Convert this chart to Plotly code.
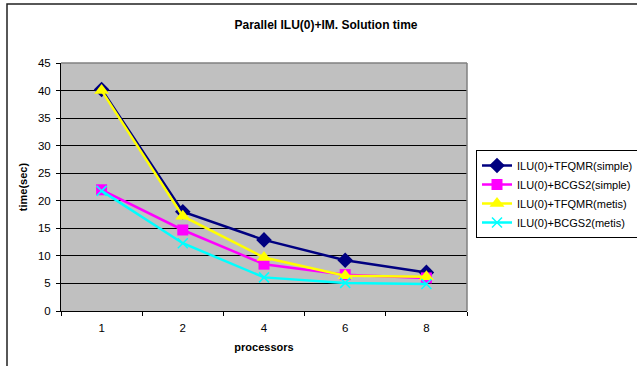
import plotly.graph_objects as go

# Number of processors (category axis)
processors = ["1", "2", "4", "6", "8"]

# Solution time in seconds for each solver / partitioning combination
tfqmr_simple = [40.2, 18.0, 12.9, 9.2, 7.0]
bcgs2_simple = [22.0, 14.7, 8.5, 6.6, 6.0]
tfqmr_metis = [40.0, 17.2, 9.7, 6.4, 6.2]
bcgs2_metis = [21.8, 12.3, 6.1, 5.1, 4.9]

series_names = [
    "ILU(0)+TFQMR(simple)",
    "ILU(0)+BCGS2(simple)",
    "ILU(0)+TFQMR(metis)",
    "ILU(0)+BCGS2(metis)",
]

FONT = "Liberation Sans, Arial, sans-serif"

styles = [
    dict(color="#000080", symbol="diamond", size=12, line=dict(width=0)),
    dict(color="#FF00FF", symbol="square", size=11, line=dict(width=0)),
    dict(color="#FFFF00", symbol="triangle-up", size=13, line=dict(width=0)),
    dict(color="#00FFFF", symbol="x-thin", size=10, line=dict(width=1.5, color="#00FFFF")),
]

fig = go.Figure()
for name, ys, st in zip(series_names, [tfqmr_simple, bcgs2_simple, tfqmr_metis, bcgs2_metis], styles):
    fig.add_trace(go.Scatter(
        x=processors, y=ys, name=name, mode="lines+markers",
        line=dict(color=st["color"], width=2.5),
        marker=st,
    ))

L, R, T, B = 61, 170, 63, 55
W, H = 637, 366
pw, ph = W - L - R, H - T - B

def px_x(p):
    return (p - L) / pw

def px_y(p):
    return (H - B - p) / ph

fig.update_layout(
    width=W, height=H,
    margin=dict(l=L, r=R, t=T, b=B, autoexpand=False),
    paper_bgcolor="white",
    plot_bgcolor="#C0C0C0",
    font=dict(family=FONT, size=11, color="black"),
    title=dict(text="<b>Parallel ILU(0)+IM. Solution time</b>",
               x=px_x(326), xanchor="center", xref="paper",
               y=1 - 25 / H, yanchor="middle",
               font=dict(family=FONT, size=12, color="black")),
    showlegend=True,
    legend=dict(
        x=px_x(476), xanchor="left", y=px_y(150), yanchor="top",
        bordercolor="black", borderwidth=1, bgcolor="white",
        font=dict(family=FONT, size=11, color="black"),
        tracegroupgap=0, itemwidth=30,
    ),
    xaxis=dict(
        type="category", range=[-0.5, 4.5],
        showgrid=False, showline=True, linecolor="black", linewidth=1,
        ticks="outside", tickson="boundaries", ticklen=4, tickcolor="black",
        ticklabelstandoff=6,
        title=dict(text="<b>processors</b>", font=dict(family=FONT, size=11), standoff=10),
        tickfont=dict(family=FONT, size=11.5),
        zeroline=False,
    ),
    yaxis=dict(
        range=[0, 45], dtick=5, tick0=0,
        showgrid=True, gridcolor="black", gridwidth=1,
        showline=True, linecolor="black", linewidth=1,
        ticks="outside", ticklen=4, tickcolor="black",
        ticklabelstandoff=3,
        title=dict(text="<b>time(sec)</b>", font=dict(family=FONT, size=11), standoff=8),
        tickfont=dict(family=FONT, size=11.5),
        zeroline=False,
    ),
    shapes=[
        # gray top and right edges of the plot area
        dict(type="line", xref="paper", yref="paper", x0=0, x1=1, y0=1, y1=1,
             line=dict(color="#808080", width=1.5), layer="above"),
        dict(type="line", xref="paper", yref="paper", x0=1, x1=1, y0=0, y1=1,
             line=dict(color="#808080", width=1.5), layer="above"),
        # outer chart frame
        dict(type="rect", xref="paper", yref="paper",
             x0=px_x(7), x1=px_x(660), y0=px_y(390), y1=px_y(4),
             line=dict(color="#202020", width=1.5), layer="above"),
    ],
)

fig.write_html("out.html")
